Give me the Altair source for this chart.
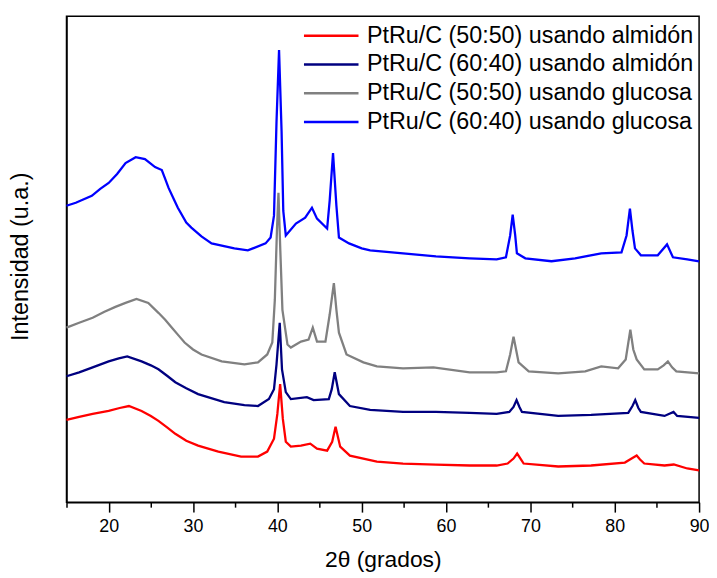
import altair as alt
import pandas as pd

names = [
    "PtRu/C (50:50) usando almidón",
    "PtRu/C (60:40) usando almidón",
    "PtRu/C (50:50) usando glucosa",
    "PtRu/C (60:40) usando glucosa",
]
colors = ["#FF0000", "#000080", "#808080", "#0000FF"]

# PtRu/C (50:50) almidón (red)
red_x = [15.0, 16.5, 18.1, 20.0, 21.3, 22.4, 23.9, 25.0, 25.9, 27.0, 27.9, 29.2, 30.6, 33.0, 35.7,
         37.7, 38.8, 39.6, 40.0, 40.33, 40.65, 41.0, 41.6, 42.8, 43.9, 44.7, 45.9, 46.5, 46.9,
         47.45, 48.6, 51.8, 54.9, 58.8, 62.8, 66.0, 67.3, 68.0, 68.43, 68.9, 69.2, 73.3, 77.2,
         81.2, 82.0, 82.6, 83.0, 83.5, 85.9, 87.0, 88.6, 90.0]
red_y = [83, 86, 89, 92, 95, 97, 92, 87, 82, 75, 69, 62, 57, 51, 46,
         46, 51, 64, 89, 119, 84, 61, 56, 57, 59, 54, 52, 61, 76,
         56, 47, 41, 39, 38, 37, 37, 39, 44, 49, 43, 39, 36, 37,
         40, 44, 47, 43, 39, 37, 38, 34, 32]

# PtRu/C (60:40) almidón (navy)
navy_x = [15.0, 16.5, 18.1, 20.0, 21.2, 22.2, 23.9, 25.0, 25.9, 27.0, 27.9, 29.2, 30.6, 33.7, 36.1,
          37.7, 39.0, 39.6, 39.9, 40.28, 40.55, 41.0, 41.6, 43.5, 44.3, 46.1, 46.45, 46.8, 47.3,
          48.6, 51.0, 54.9, 58.8, 62.8, 66.0, 67.5, 68.0, 68.36, 68.7, 69.0, 73.3, 77.2, 81.6,
          82.1, 82.43, 82.8, 83.1, 85.9, 86.97, 87.4, 90.0]
navy_y = [127, 131, 136, 142, 145, 147, 142, 138, 134, 127, 121, 115, 109, 101, 98,
          97, 104, 114, 139, 181, 134, 111, 104, 106, 103, 104, 114, 131, 109,
          97, 93, 91, 91, 90, 89, 91, 96, 103, 96, 91, 87, 88, 90,
          97, 103, 95, 91, 87, 91, 87, 85]

# PtRu/C (50:50) glucosa (gray)
gray_x = [15.0, 16.5, 18.1, 19.5, 20.8, 22.0, 23.3, 24.7, 25.9, 26.7, 27.5, 28.3, 29.0, 30.0, 31.0,
          33.4, 36.1, 37.7, 38.8, 39.4, 39.7, 39.95, 40.13, 40.35, 40.6, 41.2, 41.6, 42.8, 43.7,
          44.2, 44.7, 45.7, 46.2, 46.7, 47.0, 47.3, 48.2, 50.2, 51.8, 54.9, 58.5, 62.8, 66.0,
          67.1, 67.6, 68.0, 68.3, 68.6, 69.8, 73.3, 76.5, 78.4, 80.4, 81.3, 81.85, 82.2, 82.6,
          83.5, 85.1, 85.8, 86.3, 86.8, 87.3, 90.0]
gray_y = [176, 181, 186, 192, 197, 201, 205, 201, 191, 184, 176, 168, 161, 154, 149,
          142, 139, 141, 149, 161, 204, 274, 312, 254, 194, 159, 156, 162, 164,
          176, 162, 162, 189, 221, 194, 171, 149, 141, 137, 135, 136, 131, 131,
          132, 149, 167, 154, 141, 132, 130, 132, 137, 135, 144, 174, 154, 144,
          134, 134, 138, 142, 136, 132, 130]

# PtRu/C (60:40) glucosa (blue)
blue_x = [15.0, 16.1, 18.0, 19.0, 20.0, 21.0, 22.0, 23.2, 24.3, 25.5, 26.3, 26.7, 27.1, 27.7, 28.2,
          29.2, 29.8, 31.0, 32.2, 34.9, 36.5, 37.1, 38.6, 39.2, 39.6, 39.9, 40.2, 40.5, 40.7,
          41.0, 42.2, 43.3, 44.1, 44.7, 45.9, 46.2, 46.6, 47.0, 47.3, 48.5, 50.0, 51.0, 54.9,
          58.8, 62.8, 66.0, 67.1, 67.6, 67.9, 68.2, 68.4, 69.4, 72.5, 75.3, 78.4, 80.8, 81.4,
          81.8, 82.1, 82.4, 83.1, 85.1, 86.2, 86.9, 88.6, 90.0]
blue_y = [299, 302, 309, 316, 322, 331, 342, 348, 346, 338, 335, 326, 317, 306, 297,
          282, 277, 268, 261, 256, 254, 256, 261, 267, 289, 384, 456, 374, 294,
          269, 281, 287, 297, 286, 276, 304, 352, 299, 267, 261, 256, 254, 251,
          248, 246, 245, 247, 269, 290, 269, 251, 246, 243, 246, 251, 252, 269,
          296, 274, 256, 249, 249, 260, 247, 245, 243]

x_major = [20, 30, 40, 50, 60, 70, 80, 90]
x_all_ticks = [15, 20, 25, 30, 35, 40, 45, 50, 55, 60, 65, 70, 75, 80, 85, 90]

series = [(names[0], red_x, red_y), (names[1], navy_x, navy_y),
          (names[2], gray_x, gray_y), (names[3], blue_x, blue_y)]
rows = []
for k, (nm, xs, ys) in enumerate(series):
    for i, (xv, yv) in enumerate(zip(xs, ys)):
        rows.append({"muestra": nm, "theta": xv, "intens": yv, "orden": k, "i": i})
df = pd.DataFrame(rows)

FONT = "Liberation Sans"

chart = alt.Chart(df).mark_line(strokeWidth=2.3).encode(
    x=alt.X("theta:Q",
            scale=alt.Scale(domain=[15, 90], nice=False, zero=False),
            axis=alt.Axis(
                title="2θ (grados)",
                values=x_all_ticks,
                labelExpr="datum.value % 10 == 0 ? datum.label : ''",
                tickSize={"condition": {"test": "datum.value % 10 == 0", "value": 10}, "value": 5},
                tickWidth=1.5, tickColor="black",
                domainColor="black", domainWidth=1.5,
                grid=False,
                labelFontSize=18, labelFont=FONT, labelColor="black", labelPadding=6,
                labelFlush=False,
                titleFontSize=23, titleFont=FONT, titleFontWeight="normal", titleColor="black",
                titleBaseline="alphabetic", titleY=65,
            )),
    y=alt.Y("intens:Q",
            scale=alt.Scale(domain=[0, 490], nice=False, zero=False),
            axis=alt.Axis(
                title="Intensidad (u.a.)",
                ticks=False, labels=False, grid=False,
                domainColor="black", domainWidth=1.5,
                titleFontSize=23.5, titleFont=FONT, titleFontWeight="normal", titleColor="black",
                titleBaseline="middle", titleX=-46, titleY=242, titleAngle=-90,
            )),
    color=alt.Color("muestra:N",
                    scale=alt.Scale(domain=names, range=colors),
                    legend=alt.Legend(
                        title=None, orient="none", legendX=238, legendY=5,
                        symbolType="stroke", symbolSize=3025, symbolStrokeWidth=2.5,
                        clipHeight=29, rowPadding=0, padding=0,
                        labelFontSize=23.5, labelFont=FONT, labelColor="black",
                        labelOffset=7, labelLimit=0,
                    )),
    detail="muestra:N",
    order=alt.Order("i:Q"),
).properties(
    width=638, height=490,
    autosize=alt.AutoSizeParams(type="none"),
    padding={"left": 59, "top": 6, "right": 10, "bottom": 70},
).configure_view(
    stroke="black", strokeWidth=1.5
)

chart.save("out.html", embed_options={"renderer": "svg", "actions": False})
